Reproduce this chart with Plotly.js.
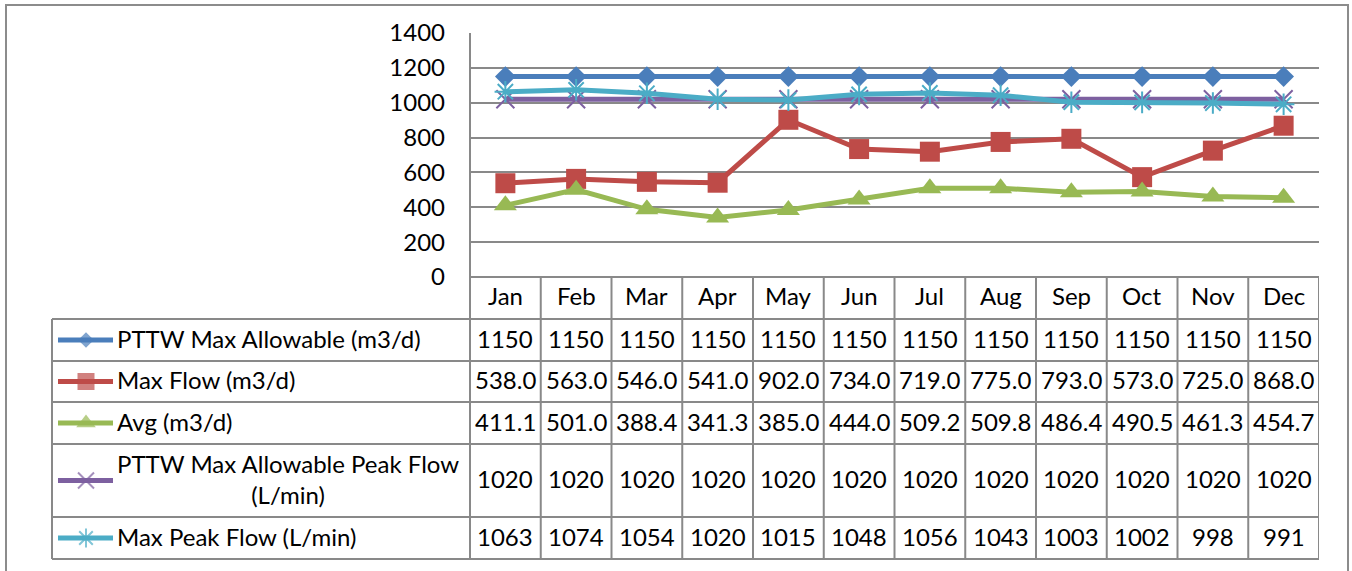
<!DOCTYPE html>
<html><head><meta charset="utf-8">
<script src="https://cdn.plot.ly/plotly-3.0.1.min.js"></script>
<style>html,body{margin:0;padding:0;background:#fff;}#chart{width:1352px;height:571px;}</style>
</head><body><div id="chart"></div>
<script>
// ---- data ----
const months = ["Jan","Feb","Mar","Apr","May","Jun","Jul","Aug","Sep","Oct","Nov","Dec"];
const pttwMaxAllowable = [1150,1150,1150,1150,1150,1150,1150,1150,1150,1150,1150,1150];
const maxFlow = [538.0,563.0,546.0,541.0,902.0,734.0,719.0,775.0,793.0,573.0,725.0,868.0];
const avgFlow = [411.1,501.0,388.4,341.3,385.0,444.0,509.2,509.8,486.4,490.5,461.3,454.7];
const pttwPeak = [1020,1020,1020,1020,1020,1020,1020,1020,1020,1020,1020,1020];
const maxPeak = [1063,1074,1054,1020,1015,1048,1056,1043,1003,1002,998,991];
const seriesNames = ["PTTW Max Allowable (m3/d)","Max Flow (m3/d)","Avg (m3/d)","PTTW Max Allowable Peak Flow<br>(L/min)","Max Peak Flow (L/min)"];
const yTicks = [0,200,400,600,800,1000,1200,1400];

// ---- layout constants (pixels) ----
const W = 1352, H = 571;
const FONT = "Lato, 'Liberation Sans', sans-serif";
const FS = 24;
const plotL = 470, plotR = 1319, plotT = 33, plotB = 277;
const tblL = 52, tblB = 559;
const rowLines = [319, 361, 402, 444, 517, 559];
const catY = 298;
const textShift = 2;
const gridCol = "#898989";
const px = v => v / W;
const py = v => 1 - v / H;

const series = [
  {name: seriesNames[0], y: pttwMaxAllowable, color: "#4A7EBB", symbol: "diamond", size: 16, lsize: 12, fmt: v => String(v), open: false},
  {name: seriesNames[1], y: maxFlow, color: "#BE4B48", symbol: "square", size: 20, lsize: 17, fmt: v => v.toFixed(1), open: false},
  {name: seriesNames[2], y: avgFlow, color: "#98B954", symbol: "triangle-up", size: 20, lsize: 17, fmt: v => v.toFixed(1), open: false},
  {name: seriesNames[3], y: pttwPeak, color: "#7D60A0", symbol: "x-thin-open", size: 18, lsize: 16, fmt: v => String(v), open: true},
  {name: seriesNames[4], y: maxPeak, color: "#4BACC6", symbol: "asterisk-open", size: 18, lsize: 16, fmt: v => String(v), open: true}
];

const traces = [];
const annotations = [];
const shapes = [];

series.forEach((s, i) => {
  traces.push({
    type: "scatter", mode: "lines+markers", x: months, y: s.y,
    xaxis: "x", yaxis: "y", cliponaxis: false, hoverinfo: "skip", showlegend: false,
    line: {color: s.color, width: 5},
    marker: {symbol: s.symbol, size: s.size, color: s.color,
             line: {color: s.color, width: s.open ? 2 : 0}}
  });
});

// legend keys (in a pixel-space overlay axis)
series.forEach((s, i) => {
  const cy = (rowLines[i] + rowLines[i + 1]) / 2;
  traces.push({
    type: "scatter", mode: "lines+markers", x: [58, 86, 113], y: [cy, cy, cy],
    xaxis: "x2", yaxis: "y2", cliponaxis: false, hoverinfo: "skip", showlegend: false,
    line: {color: s.color, width: 5},
    marker: {symbol: s.symbol, size: [0, s.lsize, 0], color: s.color,
             line: {color: s.color, width: s.open ? 2 : 0}}
  });
  annotations.push({
    xref: "paper", yref: "paper", x: px(115), y: py(cy - textShift), xanchor: "left", yanchor: "middle",
    text: s.name, showarrow: false, align: "center",
    font: {family: FONT, size: FS, color: "#000"}
  });
  months.forEach((m, j) => {
    annotations.push({
      xref: "x", yref: "paper", x: m, y: py(cy - textShift), xanchor: "center", yanchor: "middle",
      text: s.fmt(s.y[j]), showarrow: false,
      font: {family: FONT, size: FS, color: "#000"}
    });
  });
});

// category row
months.forEach(m => {
  annotations.push({
    xref: "x", yref: "paper", x: m, y: py(catY - textShift), xanchor: "center", yanchor: "middle",
    text: m, showarrow: false, font: {family: FONT, size: FS, color: "#000"}
  });
});

// table grid lines
const ln = {color: gridCol, width: 2};
rowLines.forEach(r => {
  shapes.push({type: "line", xref: "paper", yref: "paper", x0: px(tblL), x1: px(plotR), y0: py(r), y1: py(r), line: ln});
});
shapes.push({type: "line", xref: "paper", yref: "paper", x0: px(plotL), x1: px(plotR), y0: py(plotB), y1: py(plotB), line: ln});
shapes.push({type: "line", xref: "paper", yref: "paper", x0: px(tblL), x1: px(tblL), y0: py(rowLines[0]), y1: py(tblB), line: ln});
shapes.push({type: "line", xref: "paper", yref: "paper", x0: px(plotL), x1: px(plotL), y0: py(plotT), y1: py(tblB), line: ln});
months.forEach((m, j) => {
  shapes.push({type: "line", xref: "x", yref: "paper", x0: j + 0.5, x1: j + 0.5, y0: py(plotB), y1: py(tblB), line: ln});
});
// outer chart border
shapes.push({type: "rect", xref: "paper", yref: "paper", x0: px(6), x1: px(1348), y0: py(5), y1: py(580),
  line: {color: "#8c8c8c", width: 2}, layer: "below"});

const layout = {
  width: W, height: H,
  margin: {l: 0, r: 0, t: 0, b: 0, pad: 0},
  paper_bgcolor: "#fff", plot_bgcolor: "rgba(0,0,0,0)",
  showlegend: false,
  font: {family: FONT, size: FS, color: "#000"},
  xaxis: {domain: [px(plotL), px(plotR)], type: "category", range: [-0.5, 11.5],
          showticklabels: false, showgrid: false, zeroline: false, showline: false, ticks: "", fixedrange: true},
  yaxis: {domain: [py(plotB), py(plotT)], range: [0, 1400], tickvals: yTicks, ticktext: yTicks.map(String),
          showgrid: true, gridcolor: gridCol, gridwidth: 2, zeroline: false, showline: false, ticks: "",
          ticklabelstandoff: 24, tickfont: {family: FONT, size: FS, color: "#000"}, fixedrange: true},
  xaxis2: {domain: [0, 1], range: [0, W], visible: false, fixedrange: true, anchor: "y2"},
  yaxis2: {domain: [0, 1], range: [H, 0], visible: false, fixedrange: true, anchor: "x2"},
  shapes: shapes,
  annotations: annotations
};

Plotly.newPlot("chart", traces, layout, {displayModeBar: false, staticPlot: true});
</script></body></html>
